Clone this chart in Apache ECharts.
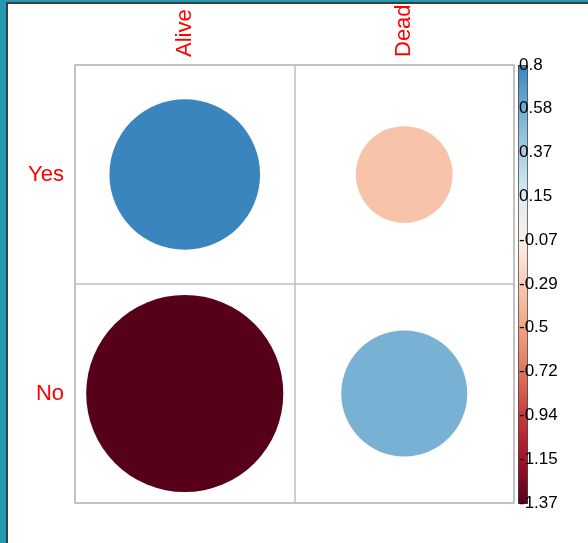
<!DOCTYPE html>
<html>
<head>
<meta charset="utf-8">
<title>Residuals: Survived vs Status</title>
<script src="https://cdn.jsdelivr.net/npm/echarts@6/dist/echarts.min.js"></script>
<style>
  html, body { margin: 0; padding: 0; background: #ffffff; }
  #chart { position: absolute; left: 0; top: 0; width: 588px; height: 543px; }
  .frame { position: absolute; pointer-events: none; }
</style>
</head>
<body>
<div id="chart"></div>
<!-- window frame strips -->
<div class="frame" style="left:0;top:0;width:6px;height:543px;background:#2497b3;"></div>
<div class="frame" style="left:0;top:0;width:588px;height:2px;background:#2497b3;"></div>
<div class="frame" style="left:6px;top:2px;width:2px;height:541px;background:#3d3d3d;"></div>
<div class="frame" style="left:6px;top:2px;width:582px;height:2px;background:#3d3d3d;"></div>
<script>
// Matrix labels
const rowNames = ['Yes', 'No'];
const colNames = ['Alive', 'Dead'];

// Cell values, one array per row (columns: Alive, Dead)
const rowYes = [0.80, -0.33];
const rowNo = [-1.37, 0.56];

// Colour legend limits and tick labels (top to bottom)
const colorLimits = [-1.37, 0.8];
const legendTicks = ['0.8', '0.58', '0.37', '0.15', '-0.07', '-0.29', '-0.5', '-0.72', '-0.94', '-1.15', '-1.37'];

// Red-to-blue diverging palette, evenly spaced from the lower limit to the upper one
const palette = ['#56001a', '#a11429', '#c43c3c', '#dd7560', '#f0a384', '#f9cbb3',
                 '#fdf0ea', '#ddebf3', '#a9cfe5', '#73aed2', '#3a85bd'];

const matrix = [rowYes, rowNo];
const cells = [];
matrix.forEach((row, r) => row.forEach((v, c) => cells.push([c, r, v])));
const maxAbs = Math.max(Math.abs(colorLimits[0]), Math.abs(colorLimits[1]));

const font = "'Liberation Sans', Arial, Helvetica, sans-serif";
const gridLine = '#bebebe';

const chart = echarts.init(document.getElementById('chart'), null, { renderer: 'canvas' });
chart.setOption({
  animation: false,
  backgroundColor: '#ffffff',
  grid: [
    { left: 75, top: 65, width: 439, height: 438, show: true, borderColor: gridLine, borderWidth: 1.5, backgroundColor: 'transparent' },
    { left: 518, top: 65, width: 9, height: 438, show: false }
  ],
  xAxis: [
    {
      gridIndex: 0, type: 'category', data: colNames, position: 'top',
      axisLine: { show: false }, axisTick: { show: false },
      splitLine: { show: true, interval: 0, lineStyle: { color: gridLine, width: 1.5 } },
      axisLabel: { rotate: -90, color: '#ff0000', fontSize: 22, fontFamily: font, margin: 8 }
    },
    { gridIndex: 1, type: 'value', show: false }
  ],
  yAxis: [
    {
      gridIndex: 0, type: 'category', data: rowNames, inverse: true,
      axisLine: { show: false }, axisTick: { show: false },
      splitLine: { show: true, interval: 0, lineStyle: { color: gridLine, width: 1.5 } },
      axisLabel: { color: '#ff0000', fontSize: 22, fontFamily: font, margin: 11 }
    },
    {
      gridIndex: 1, type: 'category', data: legendTicks, inverse: true, boundaryGap: false,
      position: 'left', z: 10,
      axisLine: { show: false }, axisTick: { show: false }, splitLine: { show: false },
      axisLabel: { inside: true, interval: 0, margin: 1, color: '#000000', fontSize: 17, fontFamily: font }
    }
  ],
  visualMap: {
    type: 'continuous',
    min: colorLimits[0], max: colorLimits[1],
    dimension: 2, seriesIndex: 0,
    orient: 'vertical', left: 518, top: 65,
    itemWidth: 9, itemHeight: 438,
    padding: 0, calculable: false, hoverLink: false,
    borderColor: '#1a1a1a', borderWidth: 1,
    inRange: { color: palette }
  },
  series: [
    {
      type: 'custom',
      xAxisIndex: 0, yAxisIndex: 0,
      data: cells,
      encode: { x: 0, y: 1 },
      renderItem: function (params, api) {
        const center = api.coord([api.value(0), api.value(1)]);
        const cell = api.size([1, 1]);
        const r = 0.45 * Math.min(cell[0], cell[1]) * Math.sqrt(Math.abs(api.value(2)) / maxAbs);
        return {
          type: 'circle',
          shape: { cx: center[0], cy: center[1], r: r },
          style: { fill: api.visual('color'), stroke: null }
        };
      }
    }
  ]
});
</script>
</body>
</html>
